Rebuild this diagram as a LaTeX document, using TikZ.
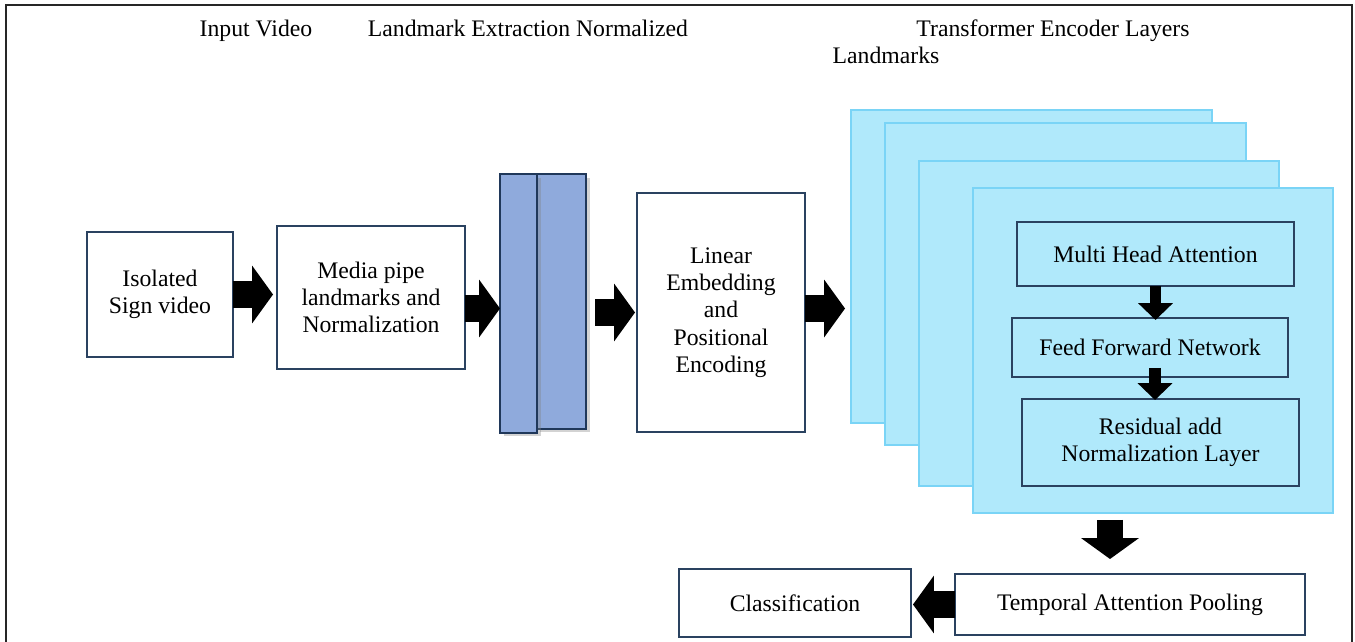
\documentclass[tikz,border=0pt]{standalone}
\usepackage{fontspec}
\setmainfont{Liberation Serif}
\usepackage{tikz}
\usetikzlibrary{arrows.meta,shadows}
\usetikzlibrary{positioning}
\definecolor{boxline}{RGB}{42,66,96}
\definecolor{barfill}{RGB}{143,170,220}
\definecolor{barline}{RGB}{32,56,90}
\definecolor{layerfill}{RGB}{176,233,251}
\definecolor{layerline}{RGB}{122,212,246}
\tikzstyle{txt} = [font=\fontsize{13.5}{15.5}\selectfont, align=center]
\tikzstyle{heading} = [txt, anchor=base]
\tikzstyle{block} = [rectangle, draw=boxline, line width=1.2pt, fill=white,
    inner sep=0pt, outer sep=0pt, txt]
\tikzstyle{inner} = [rectangle, draw=boxline, line width=1.6pt,
    inner sep=0pt, outer sep=0pt, txt]
\tikzstyle{bar} = [rectangle, draw=barline, line width=1.3pt, fill=barfill,
    inner sep=0pt, outer sep=0pt]
\tikzstyle{layer} = [rectangle, draw=layerline, line width=1.3pt, fill=layerfill,
    inner sep=0pt, outer sep=0pt]
\tikzstyle{arrow} = [line width=15.3pt, -{Triangle[length=11.9pt, width=32.3pt]}]
\tikzstyle{smallarrow} = [line width=6.8pt, -{Triangle[length=9.6pt, width=19.3pt]}]

\begin{document}
\begin{tikzpicture}[x=0.02cm, y=-0.02cm]
\useasboundingbox (0,0) rectangle (1355,642);
\draw [line width=1.1pt, black!85] (6,642) -- (6,5) -- (1352,5) -- (1352,642);

% headings
\node (hvid) [heading] at (256,37) {Input Video};
\node (hext) [heading] at (528,37) {Landmark Extraction Normalized};
\node (henc) [heading] at (1053,37) {Transformer Encoder Layers};
\node (hlmk) [heading] at (886,64) {Landmarks};

% input side
\node (iso) [block, minimum width=2.92cm, minimum height=2.50cm] at (160,294.5) {
    Isolated \\ Sign video
};
\node (media) [block, minimum width=3.76cm, minimum height=2.86cm] at (371,297.5) {
    Media pipe \\ landmarks and \\ Normalization
};
\node (bar2) [bar, minimum width=1.00cm, minimum height=5.10cm,
    drop shadow={shadow xshift=2pt, shadow yshift=-2pt, opacity=0.35}] at (561,301.5) {};
\node (bar1) [bar, minimum width=0.74cm, minimum height=5.18cm,
    drop shadow={shadow xshift=2pt, shadow yshift=-2pt, opacity=0.35}] at (518.5,303.5) {};
\node (lin) [block, minimum width=3.36cm, minimum height=4.78cm] at (721,312.5) {
    Linear \\ Embedding \\ and \\ Positional \\ Encoding
};

% encoder layers
\node (l1) [layer, minimum width=7.22cm, minimum height=6.26cm] at (1031.5,266.5) {};
\node (l2) [layer, minimum width=7.22cm, minimum height=6.44cm] at (1065.5,284) {};
\node (l3) [layer, minimum width=7.20cm, minimum height=6.50cm] at (1099,323.5) {};
\node (l4) [layer, minimum width=7.20cm, minimum height=6.50cm] at (1153,350.5) {};
\node (mha) [inner, minimum width=5.54cm, minimum height=1.28cm] at (1155.5,254) {Multi Head Attention};
\node (ffn) [inner, minimum width=5.52cm, minimum height=1.18cm] at (1150,347.5) {Feed Forward Network};
\node (res) [inner, minimum width=5.54cm, minimum height=1.74cm] at (1160.5,442.5) {
    Residual add \\ Normalization Layer
};

% output side
\node (tap) [block, minimum width=7.00cm, minimum height=1.22cm] at (1130,604.5) {Temporal Attention Pooling};
\node (cls) [block, minimum width=4.64cm, minimum height=1.36cm] at (795,603) {Classification};

\draw [arrow, shorten >=0.08cm] (iso.east) -- (iso.east -| media.west);
\draw [arrow] ([yshift=-0.22cm]media.east) -- ([yshift=-0.22cm]media.east -| bar1.west);
\draw [arrow, shorten <=0.18cm, shorten >=0.04cm] (lin.west -| bar2.east) -- (lin.west);
\draw [arrow, shorten >=0.12cm] ([yshift=0.08cm]lin.east) -- ([yshift=0.08cm]lin.east -| l1.west);
\draw [smallarrow, shorten >=-0.04cm] (mha.south) -- (mha.south |- ffn.north);
\draw [smallarrow, shorten <=-0.18cm, shorten >=-0.02cm] ([xshift=0.1cm]ffn.south) -- ([xshift=0.1cm]ffn.south |- res.north);
\draw [arrow, shorten <=0.14cm, shorten >=0.30cm] ([xshift=-0.86cm]l4.south) -- ([xshift=-0.86cm]l4.south |- tap.north);
\draw [arrow, shorten >=0.04cm] (tap.west) -- (tap.west -| cls.east);
\end{tikzpicture}
\end{document}
